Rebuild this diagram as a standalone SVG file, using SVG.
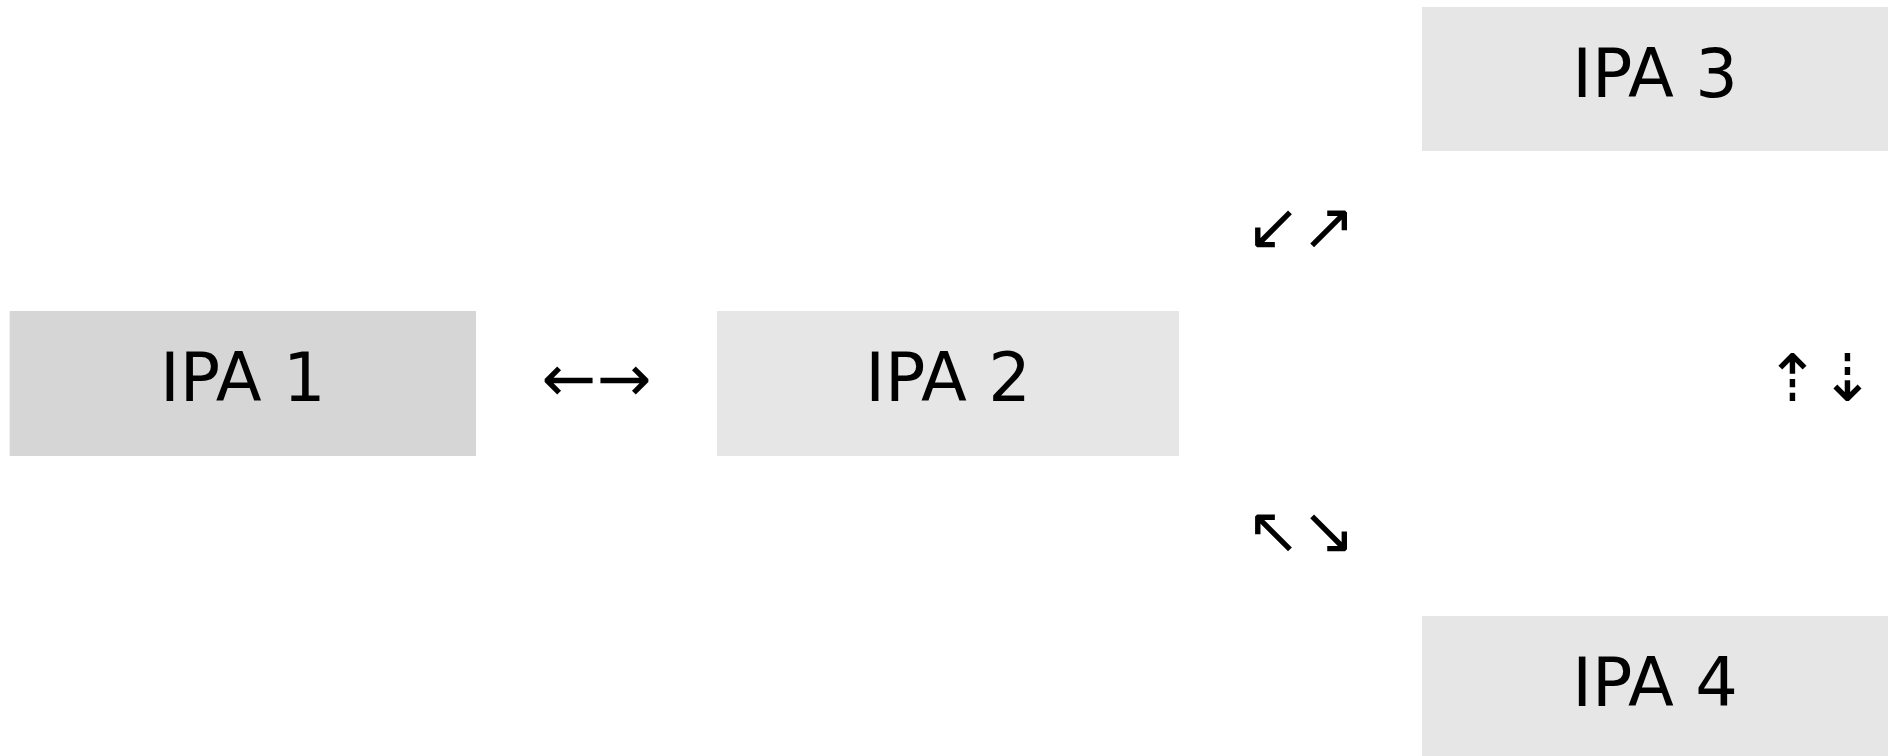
<svg xmlns="http://www.w3.org/2000/svg" width="1890" height="756" viewBox="0 0 1890 756">
  <style>
    .box { fill: #e6e6e6; }
    .box.dark { fill: #d6d6d6; }
    .label { font-family: "DejaVu Sans", sans-serif; font-size: 67px; fill: #000; text-anchor: middle; }
    .arrow { font-family: "DejaVu Sans", sans-serif; font-size: 65.5px; fill: #000; text-anchor: middle; }
  </style>
  <rect width="1890" height="756" fill="#ffffff"/>

  <g id="ipa1">
    <rect class="box dark" x="9.6" y="311" width="466.4" height="145"/>
    <text class="label" x="242.8" y="401">IPA 1</text>
  </g>
  <g id="ipa2">
    <rect class="box" x="717" y="311" width="462" height="145"/>
    <text class="label" x="948" y="401">IPA 2</text>
  </g>
  <g id="ipa3">
    <rect class="box" x="1422" y="7" width="466" height="144"/>
    <text class="label" x="1655" y="97">IPA 3</text>
  </g>
  <g id="ipa4">
    <rect class="box" x="1422" y="616" width="466" height="144"/>
    <text class="label" x="1655" y="706">IPA 4</text>
  </g>

  <g id="connectors">
    <text class="arrow" x="596.5" y="401">←→</text>
    <text class="arrow" x="1301" y="249">↙↗</text>
    <text class="arrow" x="1301" y="553">↖↘</text>
    <text class="arrow" x="1820" y="401">⇡⇣</text>
  </g>
</svg>
